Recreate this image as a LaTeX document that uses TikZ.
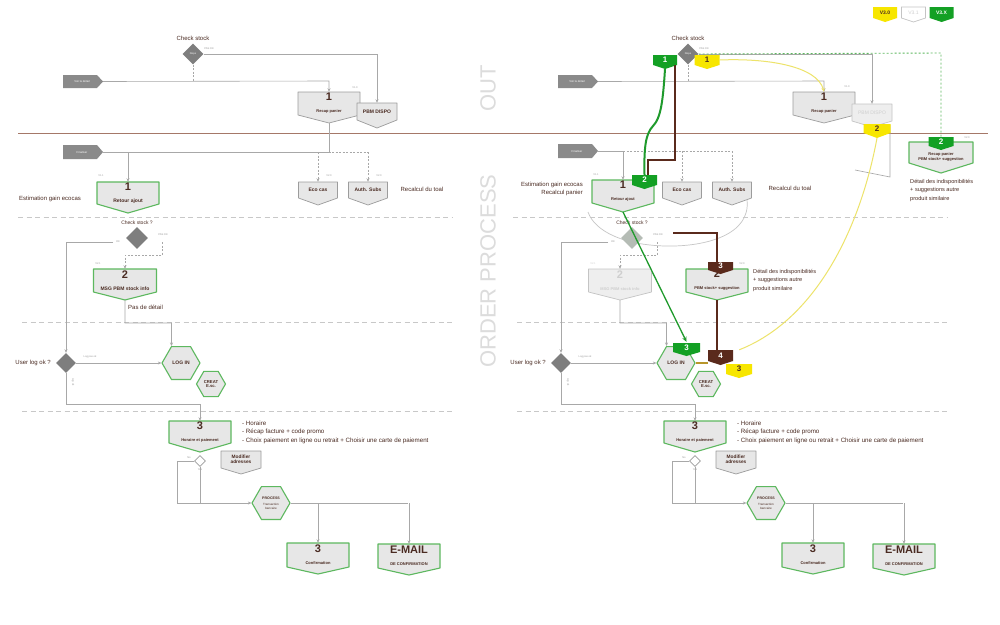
\documentclass[tikz,border=0pt]{standalone}
\usepackage{fontspec}
\setmainfont{Liberation Sans}
\usetikzlibrary{arrows.meta,shapes.geometric,calc}
\definecolor{lgray}{HTML}{A8A8A8}
\definecolor{boxfill}{HTML}{E7E7E7}
\definecolor{boxline}{HTML}{9C9C9C}
\definecolor{gborder}{HTML}{5DB85F}
\definecolor{dkbrown}{HTML}{4A2B22}
\definecolor{tagg}{HTML}{8A8A8A}
\definecolor{diamg}{HTML}{7E7E7E}
\definecolor{diaml}{HTML}{B5BCB5}
\definecolor{badgeg}{HTML}{13A024}
\definecolor{badgey}{HTML}{F7E600}
\definecolor{badgeb}{HTML}{5A2A1C}
\definecolor{ylw}{HTML}{EDE36A}
\definecolor{sepc}{HTML}{C8C8C8}
\definecolor{redsep}{HTML}{A57868}
\definecolor{ghostc}{HTML}{DCDCDC}
\definecolor{fadefill}{HTML}{EEEEEE}
\definecolor{fadeline}{HTML}{C4C4C4}
\definecolor{fadetext}{HTML}{CFCFCF}
\definecolor{minic}{HTML}{9A9A9A}
\definecolor{arcg}{HTML}{C6C6C6}
\definecolor{gline}{HTML}{1F9A2C}
\definecolor{oline}{HTML}{B8962A}
\newcommand\fs[2]{\fontsize{#1}{#2}\selectfont}
\newcommand\bnum[1]{{\fs{11}{11}\bfseries #1}}
\newcommand\bsub[1]{{\fs{4}{4.5}\bfseries #1}}
\newcommand\bsubl[1]{{\fs{5}{5.5}\bfseries #1}}
\newcommand\bt[2]{\textcolor{#1}{\fs{8}{8}\bfseries #2}}
% name, cx, top, width, body height, tip height, path style, node style, text
\newcommand\mkbox[9]{%
  \path[#7] ({#2-#4/2},#3) -- ({#2+#4/2},#3) -- ({#2+#4/2},{#3+#5}) -- (#2,{#3+#5+#6}) -- ({#2-#4/2},{#3+#5}) -- cycle;
  \node[inner sep=0pt, minimum width=#4, minimum height=#5, align=center, text=dkbrown, #8] (#1) at (#2,{#3+#5/2}) {#9};
  \coordinate (#1-tip) at (#2,{#3+#5+#6});
}
% name, xleft, ycenter, body width, height, tip, text
\newcommand\mktag[7]{%
  \path[tagshape] (#2,{#3-#5/2}) -- ({#2+#4},{#3-#5/2}) -- ({#2+#4+#6},#3) -- ({#2+#4},{#3+#5/2}) -- (#2,{#3+#5/2}) -- cycle;
  \node[inner sep=0pt, minimum width=#4, minimum height=#5, text=white, font=\fs{2.8}{3}] (#1) at ({#2+#4/2+2},#3) {#7};
  \coordinate (#1-tip) at ({#2+#4+#6},#3);
}
\tikzset{
  conn/.style={draw=lgray, line width=0.6pt},
  arr/.style={conn, -{Stealth[length=3.5pt,width=3pt]}},
  dconn/.style={conn, dash pattern=on 2pt off 1.5pt},
  darr/.style={dconn, -{Stealth[length=3.5pt,width=3pt]}},
  sepline/.style={draw=sepc, line width=0.8pt, dash pattern=on 5pt off 3.5pt},
  graybox/.style={fill=boxfill, draw=boxline, line width=0.7pt, line join=round},
  greenbox/.style={fill=boxfill, draw=gborder, line width=1.1pt, line join=round},
  fadebox/.style={fill=fadefill, draw=fadeline, line width=0.7pt, line join=round},
  tagshape/.style={fill=tagg},
  gbadge/.style={fill=badgeg},
  ybadge/.style={fill=badgey},
  bbadge/.style={fill=badgeb},
  wbadge/.style={fill=white, draw=fadeline, line width=0.7pt},
  lbl/.style={font=\fs{6}{7}, text=dkbrown, inner sep=0pt},
  mini/.style={font=\fs{2.6}{3}, text=minic, inner sep=0pt},
  dia/.style={diamond, fill=diamg, minimum width=21pt, minimum height=21pt, inner sep=0pt, font=\fs{2.5}{3}, text=white},
  hexa/.style={regular polygon, regular polygon sides=6, fill=boxfill, draw=gborder, line width=1.1pt, inner sep=0pt, text=dkbrown, align=center},
  ghosttxt/.style={font=\fs{22}{24}, text=ghostc, rotate=90, inner sep=0pt},
  gdash/.style={draw=gborder, line width=0.9pt, dash pattern=on 2pt off 2pt},
  gthick/.style={draw=gline, line width=2pt},
  bthick/.style={draw=badgeb, line width=2.2pt},
  ycurve/.style={draw=ylw, line width=1pt},
  listtxt/.style={lbl, anchor=west, font=\fs{6.2}{6.8}},
  dettxt/.style={lbl, anchor=north west, align=left, font=\fs{5.6}{8.5}},
  modtxt/.style={font=\fs{4.8}{5.4}\bfseries},
  proctxt/.style={font=\fs{3}{3.6}},
  creattxt/.style={font=\fs{4.2}{4.8}\bfseries},
  smbox/.style={font=\fs{5}{6}\bfseries},
}
\begin{document}
\begin{tikzpicture}[x=1pt,y=-1pt]
\path[fill=white] (0,0) rectangle (1000,624);
\useasboundingbox (0,0) rectangle (1000,624);

% global separators and titles
\draw[draw=redsep, line width=1pt] (18,133) -- (988,133);
\node[ghosttxt] (tout) at (488,88) {OUT};
\node[ghosttxt] (tord) at (488,271) {ORDER PROCESS};

% legend
\mkbox{L1}{885}{7}{24}{11}{4}{ybadge}{text=dkbrown}{\fs{5}{6}\bfseries V3.0}
\mkbox{L2}{913.5}{7}{24}{11}{4}{wbadge}{text=fadetext}{\fs{5}{6}V3.1}
\mkbox{L3}{941.5}{7}{24}{11}{4}{gbadge}{text=white}{\fs{5}{6}\bfseries V3.X}

% ================= LEFT PANE =================
\node[lbl] (csl) at (193,38) {Check stock};
\node[dia] (cs1) at (193,54) {Dispo};
\node[mini] (pk1) at (209,49) {PAS OK};
\mktag{vld}{63}{81.5}{34}{13}{6}{Voir le détail}
\mkbox{rp1}{329}{92}{62}{23}{8}{graybox}{}{\bnum{1}\\\bsub{Recap panier}}
\node[mini] (v10) at (355,88) {V1.0};
\mkbox{pbm}{377}{103}{40}{17}{8}{graybox}{smbox}{PBM DISPO}
\draw[dconn] (cs1.south) -- (193,81);
\draw[arr] (vld-tip) -- (329,81) -- (rp1.north);
\draw[arr] (cs1.east) -- (377,54) -- (pbm.north);

\mktag{fin}{63}{152}{34}{14}{6}{Finaliser}
\mkbox{ra1}{128}{182}{62}{22}{9}{greenbox}{}{\bnum{1}\\\bsubl{Retour ajout}}
\node[mini] (v11) at (101,176) {V1.1};
\mkbox{eco1}{318}{182}{39}{16}{7}{graybox}{smbox}{Eco cas}
\mkbox{auth1}{368}{182}{39}{16}{7}{graybox}{smbox}{Auth. Subs}
\node[mini] (ve1) at (329,176) {V2.0};
\node[mini] (va1) at (379,176) {V2.0};
\draw[conn] (rp1-tip) -- (329,152) -- (128,152);
\draw[arr] (fin-tip) -- (128,152) -- (ra1.north);
\draw[dconn] (318,152) -- (368,152);
\draw[darr] (318,152) -- (eco1.north);
\draw[darr] (368,152) -- (auth1.north);
\node[lbl] (est1) at (50,199) {Estimation gain ecocas};
\node[lbl] (rec1) at (422,189) {Recalcul du toal};

\draw[sepline] (18,217) -- (452,217);

\node[lbl, font=\fs{5}{6}] (csq) at (137,223) {Check stock ?};
\node[dia, minimum width=22pt, minimum height=22pt] (cs2) at (137,238) {};
\node[mini] (pk2) at (163,235) {PAS OK};
\node[mini] (ok1) at (118,242) {OK};
\coordinate (okst) at (113,242);
\mkbox{msg}{125}{269}{63}{23}{8}{greenbox}{}{\bnum{2}\\\bsubl{MSG PBM stock info}}
\node[mini] (v21) at (98,264) {V2.1};
\node[lbl, anchor=west] (pdd) at (128,307) {Pas de détail};

\draw[sepline] (22,322) -- (453,322);

\node[dia, minimum width=20pt, minimum height=20pt] (ul) at (66,363) {};
\node[lbl, anchor=east] (ulq) at (51,363) {User log ok ?};
\node[mini] (lpo) at (90,357) {Log pas ok};
\node[mini, rotate=-90] (lok) at (73,382) {Log ok};
\node[hexa, minimum size=38pt, font=\fs{5}{6}\bfseries] (login) at (181,363) {LOG IN};
\node[hexa, minimum size=29pt, creattxt] (creat) at (211,384) {CREAT\\E.sc.};
\draw[arr] (okst) -- (66,242) -- (ul.north);
\draw[darr] (162,242) -- (162,255) -- (125,255) -- (msg.north);
\draw[arr] (msg-tip) -- (125,323) -- (171.5,323) -- ([xshift=-9.5pt]login.north);
\draw[arr] (ul.east) -- (login.west);

\draw[sepline] (22,411) -- (453,411);

\mkbox{hp}{200}{421}{62}{22}{9}{greenbox}{}{\bnum{3}\\\bsub{Horaire et paiement}}
\draw[arr] (ul.south) -- (66,404) -- (200,404) -- (hp.north);
\node[listtxt] (li1) at (242,423) {- Horaire};
\node[listtxt] (li2) at (242,432) {- Récap facture + code promo};
\node[listtxt] (li3) at (242,441) {- Choix paiement en ligne ou retrait + Choisir une carte de paiement};
\mkbox{mod}{241}{451}{40}{17}{6}{graybox}{modtxt}{Modifier\\adresses}
\node[diamond, draw=boxline, fill=white, minimum width=11pt, minimum height=11pt, inner sep=0pt, line width=0.6pt] (sd) at (200,461) {};
\node[mini] (sdn) at (189,458) {No};
\node[mini] (sdy) at (200,470) {Yes};
\node[hexa, minimum size=38pt, proctxt] (proc) at (271,503) {{\fs{3.6}{4}\bfseries PROCESS}\\[3pt]Transaction\\bancaire};
\mkbox{conf}{318}{543}{62}{24}{7}{greenbox}{}{\bnum{3}\\\bsub{Confirmation}}
\mkbox{email}{409}{544}{62}{24}{7}{greenbox}{}{{\fs{11}{11}\bfseries E-MAIL}\\\bsub{DE CONFIRMATION}}
\draw[conn] (sd.west) -- (177,461) -- (177,503);
\draw[conn] (sd.south) -- (200,503);
\draw[arr] (177,503) -- (proc.west);
\draw[conn] (proc.east) -- (408,503);
\draw[arr] (318,503) -- (conf.north);
\draw[arr] (409,503) -- (email.north);

% ================= RIGHT PANE =================
\begin{scope}[xshift=495pt]
\node[lbl] (Rcsl) at (193,38) {Check stock};
\node[dia] (Rcs1) at (193,54) {Dispo};
\node[mini] (Rpk1) at (209,49) {PAS OK};
\mktag{Rvld}{63}{81.5}{34}{13}{6}{Voir le détail}
\mkbox{Rrp}{329}{92}{62}{23}{8}{graybox}{}{\bnum{1}\\\bsub{Recap panier}}
\node[mini] (Rv10) at (352,87) {V1.0};
\mkbox{Rpbm}{377}{104}{40}{17}{6}{fadebox}{text=fadetext}{\fs{5}{6}PBM DISPO}
\draw[conn] (395,125) -- (395,177) -- (360,170);
\draw[dconn] (Rcs1.south) -- (193,81);
\draw[arr] (Rvld-tip) -- (329,81) -- (Rrp.north);
\draw[arr] (Rcs1.east) -- (377,54) -- (Rpbm.north);
\mkbox{Rrps}{446}{142}{64}{21}{10}{greenbox}{}{}
\node[lbl, align=center, font=\fs{4}{4.6}\bfseries] (Rrpst) at (446,157) {Recap panier\\PBM stock+ suggestion};
\node[mini] (Rv20a) at (472,138) {V2.0};
\mkbox{Rg2}{446}{137}{25}{9}{4}{gbadge}{}{\bt{white}{2}}
\draw[gdash] (Rcs1.east) -- (446,53) -- (Rg2.north);
\node[dettxt] (Rdet1) at (415,179) {Détail des indisponibilités\\+ suggestions autre\\produit similaire};
\mkbox{Ry2}{382}{124}{27}{9}{5}{ybadge}{}{\bt{dkbrown}{2}}

\mktag{Rfin}{63}{151}{34}{14}{6}{Finaliser}
\mkbox{Rra}{128}{180}{62}{23}{9}{greenbox}{}{\bnum{1}\\\bsub{Retour ajout}}
\node[mini] (Rv11) at (101,175) {V1.1};
\mkbox{Reco}{187}{182}{39}{16}{7}{graybox}{smbox}{Eco cas}
\mkbox{Rauth}{237}{182}{39}{16}{7}{graybox}{smbox}{Auth. Subs}
\draw[arr] (Rfin-tip) -- (128,151) -- (Rra.north);
\draw[dconn] (128,151) -- (237,151);
\draw[darr] (187,151) -- (Reco.north);
\draw[darr] (237,151) -- (Rauth.north);
\node[lbl, anchor=east, align=right, font=\fs{6}{8}] (Rest) at (88,189) {Estimation gain ecocas\\Recalcul panier};
\node[lbl] (Rrec) at (295,188) {Recalcul du toal};
\draw[draw=arcg, line width=0.7pt] (252,200) .. controls (256,235) and (210,247) .. (170,246) .. controls (130,245) and (100,232) .. (93,212);

\mkbox{Rg1}{170}{55}{24}{10}{4}{gbadge}{}{\bt{white}{1}}
\mkbox{Ry1}{212}{55}{25}{10}{4}{ybadge}{}{\bt{dkbrown}{1}}
\mkbox{Rg2b}{149.5}{175}{25}{10}{4}{gbadge}{}{\bt{white}{2}}
\draw[ycurve, -{Stealth[length=4pt,width=3.5pt]}] (Ry1.east) .. controls (272,58) and (322,66) .. (Rrp.north);
\draw[gthick] (Rg1-tip) .. controls (168,100) and (166,118) .. (158,126) .. controls (150,134) and (149,150) .. (Rg2b.north);
\draw[bthick] ([xshift=10pt]Rg1.south) -- (180,160) -- (153,160) -- ([xshift=3.5pt]Rg2b.north);

\draw[sepline] (18,217) -- (452,217);

\node[lbl, font=\fs{5}{6}] (Rcsq) at (137,223) {Check stock ?};
\node[dia, fill=diaml, minimum width=22pt, minimum height=22pt] (Rcs2) at (137,238) {};
\node[mini] (Rpk2) at (163,235) {PAS OK};
\node[mini] (Rok1) at (118,242) {OK};
\coordinate (Rokst) at (113,242);
\mkbox{Rmsg}{125}{269}{63}{23}{8}{fadebox}{text=fadetext}{\bnum{2}\\\bsub{MSG PBM stock info}}
\node[mini, text=fadetext] (Rv21) at (98,264) {V2.1};
\mkbox{Rpsg}{222}{269}{62}{23}{8}{greenbox}{}{\bnum{2}\\\bsub{PBM stock+ suggestion}}
\node[mini] (Rv20b) at (247,264) {V2.0};
\node[dettxt] (Rdet2) at (258,269) {Détail des indisponibilités\\+ suggestions autre\\produit similaire};
\mkbox{Rb3}{225.5}{262}{25}{8}{4}{bbadge}{}{\bt{white}{3}}
\draw[bthick] (178,233) -- (222,233) -- ([xshift=-3.5pt]Rb3.north);
\draw[darr] (162,242) -- (162,255) -- (125,255) -- (Rmsg.north);

\draw[sepline] (22,322) -- (453,322);

\node[dia, minimum width=20pt, minimum height=20pt] (Rul) at (66,363) {};
\node[lbl, anchor=east] (Rulq) at (51,363) {User log ok ?};
\node[mini] (Rlpo) at (90,357) {Log pas ok};
\node[mini, rotate=-90] (Rlok) at (73,382) {Log ok};
\node[hexa, minimum size=38pt, font=\fs{5}{6}\bfseries] (Rlogin) at (181,363) {LOG IN};
\node[hexa, minimum size=29pt, creattxt] (Rcreat) at (211,384) {CREAT\\E.sc.};
\draw[arr] (Rokst) -- (66,242) -- (Rul.north);
\draw[arr] (Rmsg-tip) -- (125,323) -- (171.5,323) -- ([xshift=-9.5pt]Rlogin.north);
\draw[arr] (Rul.east) -- (Rlogin.west);
\mkbox{Rb4}{225.5}{350}{25}{11}{4}{bbadge}{}{\bt{white}{4}}
\draw[bthick] (Rpsg-tip) -- ([xshift=-3.5pt]Rb4.north);
\draw[draw=oline, line width=1.4pt] (Rlogin.east) -- (213,363);
\mkbox{Ry3}{244}{364}{26}{10}{4}{ybadge}{}{\bt{dkbrown}{3}}
\draw[ycurve] (Ry2-tip) .. controls (365,230) and (320,320) .. ([xshift=6pt]Rb4.north east);
\mkbox{Rg3}{191.5}{343}{27}{9}{4}{gbadge}{}{\bt{white}{3}}
\draw[draw=gline, line width=1.3pt, -{Stealth[length=5pt,width=4.5pt]}] (Rra-tip) -- ([yshift=1pt]Rg3.north);

\draw[sepline] (22,411) -- (453,411);

\mkbox{Rhp}{200}{421}{62}{22}{9}{greenbox}{}{\bnum{3}\\\bsub{Horaire et paiement}}
\draw[arr] (Rul.south) -- (66,404) -- (200,404) -- (Rhp.north);
\node[listtxt] (Rli1) at (242,423) {- Horaire};
\node[listtxt] (Rli2) at (242,432) {- Récap facture + code promo};
\node[listtxt] (Rli3) at (242,441) {- Choix paiement en ligne ou retrait + Choisir une carte de paiement};
\mkbox{Rmod}{241}{451}{40}{17}{6}{graybox}{modtxt}{Modifier\\adresses}
\node[diamond, draw=boxline, fill=white, minimum width=11pt, minimum height=11pt, inner sep=0pt, line width=0.6pt] (Rsd) at (200,461) {};
\node[mini] (Rsdn) at (189,458) {No};
\node[mini] (Rsdy) at (200,470) {Yes};
\node[hexa, minimum size=38pt, proctxt] (Rproc) at (271,503) {{\fs{3.6}{4}\bfseries PROCESS}\\[3pt]Transaction\\bancaire};
\mkbox{Rconf}{318}{543}{62}{24}{7}{greenbox}{}{\bnum{3}\\\bsub{Confirmation}}
\mkbox{Remail}{409}{544}{62}{24}{7}{greenbox}{}{{\fs{11}{11}\bfseries E-MAIL}\\\bsub{DE CONFIRMATION}}
\draw[conn] (Rsd.west) -- (177,461) -- (177,503);
\draw[conn] (Rsd.south) -- (200,503);
\draw[arr] (177,503) -- (Rproc.west);
\draw[conn] (Rproc.east) -- (408,503);
\draw[arr] (318,503) -- (Rconf.north);
\draw[arr] (409,503) -- (Remail.north);
\end{scope}
\end{tikzpicture}
\end{document}
